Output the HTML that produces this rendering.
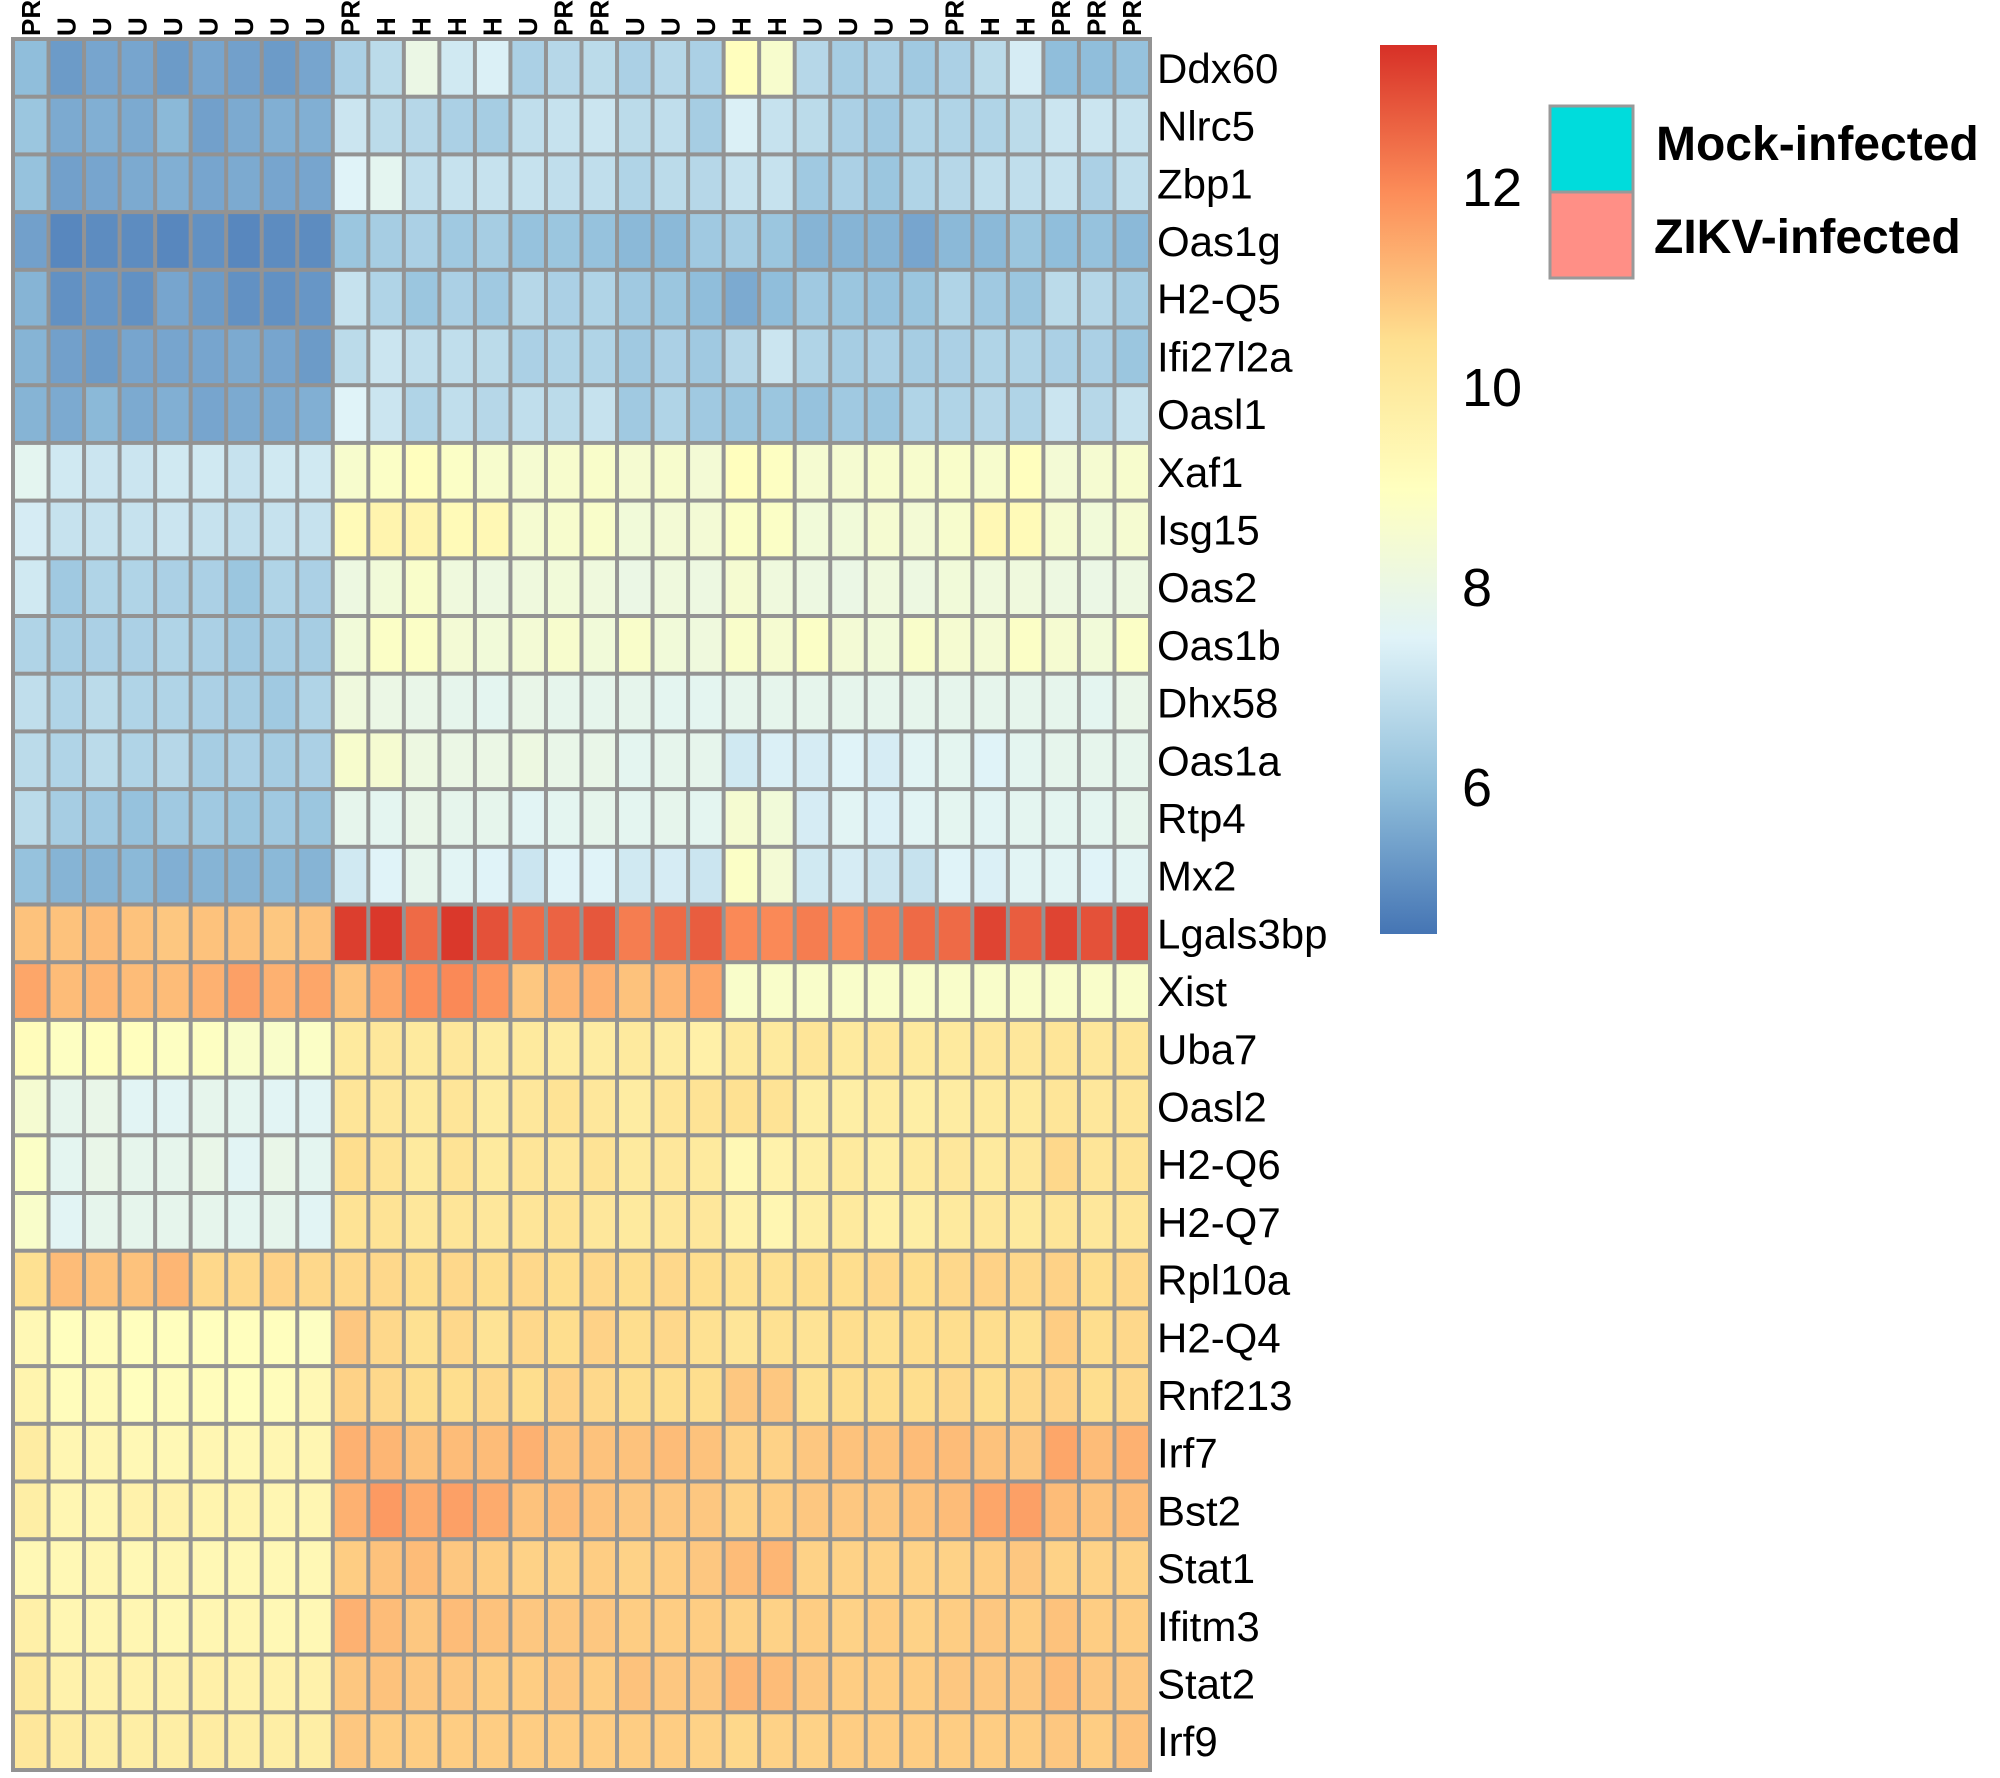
<!DOCTYPE html>
<html><head><meta charset="utf-8">
<style>
html,body{margin:0;padding:0;background:#fff;}
svg{display:block;}
text{font-family:"Liberation Sans",sans-serif;}
</style></head>
<body>
<svg id="chart" width="2000" height="1778" viewBox="0 0 2000 1778" xmlns="http://www.w3.org/2000/svg">
  <defs>
    <linearGradient id="cbgrad" x1="0" y1="1" x2="0" y2="0">
      <stop offset="0" stop-color="#4575B4"/>
      <stop offset="0.1667" stop-color="#91BFDB"/>
      <stop offset="0.3333" stop-color="#E0F3F8"/>
      <stop offset="0.5" stop-color="#FFFFBF"/>
      <stop offset="0.6667" stop-color="#FEE090"/>
      <stop offset="0.8333" stop-color="#FC8D59"/>
      <stop offset="1" stop-color="#D73027"/>
    </linearGradient>
  </defs>
  <g id="cells"></g>
  <g id="rowlabels"></g>
  <g id="collabels"></g>
  <rect x="1380" y="45" width="57" height="889" fill="url(#cbgrad)"/>
  <g id="cbticks"></g>
  <g>
    <rect x="1550" y="106" width="83" height="86" fill="#00DCDC" stroke="#999" stroke-width="3"/>
    <rect x="1550" y="192" width="83" height="86" fill="#FF8F86" stroke="#999" stroke-width="3"/>
    <text x="1656" y="160" font-size="48" font-weight="bold">Mock-infected</text>
    <text x="1654" y="253" font-size="48" font-weight="bold">ZIKV-infected</text>
  </g>
</svg>
<script>
const genes = ["Ddx60","Nlrc5","Zbp1","Oas1g","H2-Q5","Ifi27l2a","Oasl1","Xaf1","Isg15","Oas2","Oas1b","Dhx58","Oas1a","Rtp4","Mx2","Lgals3bp","Xist","Uba7","Oasl2","H2-Q6","H2-Q7","Rpl10a","H2-Q4","Rnf213","Irf7","Bst2","Stat1","Ifitm3","Stat2","Irf9"];
const samples = ["PR","U","U","U","U","U","U","U","U","PR","H","H","H","H","U","PR","PR","U","U","U","H","H","U","U","U","U","PR","H","H","PR","PR","PR"];
const colorTicks = [6, 8, 10, 12];
const colorMin = 4.53;
const colorMax = 13.42;
const values = [
[6.0,5.3,5.5,5.5,5.3,5.5,5.4,5.3,5.5, 6.5,6.8,8.0,7.2,7.4,6.5,6.7,6.8,6.5,6.7,6.5,9.0,8.6,6.7,6.4,6.5,6.3,6.5,6.8,7.3,6.0,6.0,6.1],
[6.2,5.6,5.7,5.6,5.9,5.4,5.6,5.7,5.7, 7.1,6.8,6.7,6.5,6.4,6.9,7.0,7.1,6.8,6.9,6.4,7.4,7.0,6.8,6.5,6.3,6.6,6.6,6.6,6.8,7.1,7.1,7.0],
[6.1,5.4,5.5,5.6,5.7,5.5,5.6,5.5,5.5, 7.5,7.7,6.9,7.0,7.0,7.0,6.9,6.9,6.6,6.8,6.7,7.0,7.0,6.3,6.5,6.2,6.6,6.7,6.9,6.9,7.0,6.5,6.9],
[5.4,4.9,5.0,5.0,4.9,5.1,4.9,5.0,5.0, 6.2,6.4,6.5,6.3,6.4,6.1,6.2,6.1,5.9,5.9,6.3,6.4,6.2,5.8,5.8,5.8,5.5,5.9,5.9,6.2,6.0,6.1,5.9],
[5.8,5.1,5.2,5.1,5.5,5.3,5.1,5.1,5.2, 7.0,6.6,6.2,6.5,6.3,6.7,6.5,6.6,6.3,6.2,6.0,5.6,6.0,6.3,6.2,6.1,6.2,6.6,6.3,6.2,6.8,6.7,6.4],
[5.8,5.4,5.3,5.5,5.5,5.5,5.6,5.5,5.3, 6.8,7.1,6.9,6.9,6.8,6.5,6.6,6.6,6.3,6.5,6.3,6.7,7.1,6.6,6.4,6.5,6.4,6.5,6.6,6.6,6.5,6.5,6.2],
[5.8,5.6,5.9,5.6,5.7,5.5,5.6,5.6,5.7, 7.5,7.1,6.6,6.9,6.7,6.9,6.8,7.0,6.3,6.6,6.3,6.2,6.2,6.1,6.3,6.2,6.6,6.6,6.7,6.6,7.1,6.7,7.0],
[7.7,7.2,7.1,7.1,7.2,7.2,7.0,7.2,7.2, 8.6,8.8,9.0,8.8,8.6,8.5,8.6,8.7,8.5,8.6,8.4,9.0,8.9,8.5,8.5,8.6,8.6,8.7,8.6,9.0,8.4,8.5,8.6],
[7.3,7.0,7.0,7.0,7.1,7.0,6.9,7.0,7.0, 9.2,9.5,9.5,9.2,9.3,8.5,8.6,8.7,8.3,8.4,8.4,8.8,8.8,8.3,8.3,8.5,8.4,8.6,9.3,9.2,8.5,8.3,8.5],
[7.2,6.3,6.6,6.6,6.5,6.5,6.2,6.6,6.5, 8.1,8.3,8.7,8.2,8.1,8.2,8.3,8.2,8.0,8.2,8.1,8.5,8.2,8.1,8.0,8.2,8.1,8.3,8.2,8.2,8.1,8.0,8.1],
[6.6,6.4,6.5,6.5,6.6,6.5,6.3,6.4,6.4, 8.3,8.8,8.8,8.4,8.3,8.4,8.6,8.3,8.7,8.3,8.2,8.7,8.5,8.8,8.4,8.3,8.7,8.5,8.4,8.8,8.5,8.3,8.8],
[6.9,6.6,6.8,6.6,6.6,6.5,6.4,6.3,6.6, 8.2,8.0,7.9,7.8,7.7,7.9,7.8,7.8,7.8,7.7,7.7,7.8,7.8,7.8,7.8,7.8,7.8,7.8,7.8,7.8,7.8,7.7,7.9],
[6.8,6.6,6.8,6.6,6.7,6.4,6.5,6.4,6.5, 8.6,8.5,8.1,8.0,8.0,8.1,7.9,7.9,7.7,7.8,7.8,7.2,7.4,7.3,7.5,7.3,7.6,7.7,7.5,7.7,7.8,7.8,7.8],
[6.8,6.4,6.3,6.1,6.3,6.3,6.2,6.3,6.2, 7.8,7.7,7.9,7.8,7.8,7.6,7.7,7.8,7.7,7.8,7.7,8.5,8.3,7.3,7.6,7.4,7.6,7.7,7.6,7.7,7.7,7.7,7.8],
[6.1,5.8,5.8,5.9,5.7,5.8,5.8,5.9,5.8, 7.2,7.5,7.8,7.6,7.5,7.1,7.5,7.5,7.2,7.3,7.1,8.8,8.4,7.2,7.3,7.1,7.0,7.5,7.4,7.6,7.6,7.5,7.6],
[11.0,11.0,11.1,11.0,10.9,11.0,11.0,10.9,11.0, 13.2,13.3,12.5,13.3,12.9,12.5,12.6,12.8,12.2,12.5,12.7,12.0,12.0,12.2,12.0,12.2,12.5,12.5,13.1,12.7,13.1,12.9,13.1],
[11.5,11.1,11.2,11.1,11.1,11.3,11.6,11.3,11.5, 11.0,11.5,11.9,12.0,11.8,10.9,11.2,11.3,11.0,11.2,11.5,8.7,8.7,8.7,8.7,8.7,8.7,8.7,8.7,8.7,8.7,8.7,8.7],
[9.1,8.9,9.0,9.0,8.9,8.9,8.7,8.7,8.8, 10.0,10.1,10.0,10.1,9.9,10.0,9.9,9.9,10.0,9.9,9.7,10.0,10.0,10.2,10.0,10.1,10.0,10.0,10.1,10.1,10.2,10.1,10.2],
[8.5,7.8,7.9,7.6,7.6,7.8,7.7,7.6,7.6, 10.2,10.1,10.0,10.2,9.9,10.1,10.3,10.1,9.9,10.2,10.3,10.4,10.3,9.8,9.8,9.9,9.8,9.9,10.0,10.0,10.2,10.1,10.2],
[8.8,7.7,7.9,7.8,7.8,7.9,7.6,7.9,7.7, 10.5,10.3,10.0,10.3,10.0,10.2,10.1,10.3,10.0,10.1,10.0,9.3,9.6,9.8,10.0,9.8,10.0,10.1,10.0,10.1,10.6,10.2,10.3],
[8.7,7.6,7.8,7.8,7.8,7.8,7.7,7.8,7.6, 10.3,10.3,10.1,10.2,10.1,10.2,10.3,10.1,10.0,10.1,10.1,9.6,9.4,9.8,10.0,9.7,9.8,10.0,10.1,10.0,10.2,10.1,10.2],
[10.4,11.1,11.0,11.0,11.2,10.6,10.6,10.7,10.6, 10.6,10.6,10.5,10.6,10.5,10.6,10.5,10.6,10.5,10.6,10.5,10.4,10.4,10.5,10.5,10.6,10.5,10.6,10.7,10.6,10.7,10.5,10.6],
[9.3,9.0,9.1,9.0,9.0,9.0,9.0,9.0,8.9, 10.9,10.6,10.4,10.6,10.3,10.6,10.5,10.7,10.5,10.6,10.4,10.2,10.4,10.3,10.5,10.4,10.5,10.5,10.5,10.4,10.8,10.5,10.6],
[9.5,9.1,9.2,9.0,9.1,9.1,9.0,9.1,9.3, 10.7,10.6,10.5,10.5,10.6,10.5,10.7,10.6,10.5,10.5,10.5,10.9,10.9,10.4,10.5,10.5,10.5,10.6,10.5,10.6,10.7,10.5,10.6],
[9.9,9.4,9.4,9.3,9.3,9.4,9.3,9.4,9.4, 11.3,11.2,11.0,11.1,11.1,11.3,11.0,11.0,11.0,11.1,11.0,10.7,10.7,10.9,11.0,11.0,11.1,11.1,11.0,10.9,11.5,11.1,11.3],
[9.8,9.4,9.4,9.6,9.6,9.5,9.5,9.4,9.4, 11.3,11.7,11.4,11.6,11.4,11.0,11.1,11.0,10.9,10.9,10.9,10.7,10.8,10.9,10.9,10.9,11.0,11.1,11.5,11.6,11.1,11.0,11.1],
[9.3,9.3,9.4,9.3,9.4,9.3,9.3,9.3,9.3, 10.8,11.0,11.1,10.9,10.8,10.7,10.7,10.8,10.7,10.8,10.9,11.1,11.2,10.7,10.7,10.7,10.7,10.7,10.8,10.9,10.7,10.7,10.7],
[9.7,9.4,9.4,9.4,9.3,9.4,9.4,9.3,9.3, 11.3,11.1,10.9,11.1,11.0,10.9,10.9,10.9,10.8,10.8,10.8,10.7,10.7,10.8,10.7,10.8,10.7,10.8,10.9,10.8,11.0,10.8,10.8],
[10.0,9.6,9.6,9.6,9.6,9.7,9.6,9.6,9.6, 10.9,11.0,10.9,10.9,10.8,10.8,10.9,10.8,11.0,10.9,10.9,11.2,11.1,10.9,10.8,10.8,10.8,10.9,10.9,10.9,11.1,10.9,10.9],
[10.1,9.9,9.8,9.8,9.8,9.9,9.8,9.8,9.8, 10.9,10.8,10.8,10.8,10.8,10.8,10.8,10.8,10.8,10.8,10.7,10.6,10.7,10.7,10.8,10.8,10.8,10.8,10.8,10.8,10.9,10.8,11.0]
];

const NS = "http://www.w3.org/2000/svg";
const gridX0 = 13, gridX1 = 1150, gridY0 = 39, gridY1 = 1770;
const cw = (gridX1 - gridX0) / samples.length;
const ch = (gridY1 - gridY0) / genes.length;
function xPos(j){ return gridX0 + j * cw; }
function yPos(i){ return gridY0 + i * ch; }
const stops = ["#4575B4","#91BFDB","#E0F3F8","#FFFFBF","#FEE090","#FC8D59","#D73027"].map(h=>[parseInt(h.slice(1,3),16),parseInt(h.slice(3,5),16),parseInt(h.slice(5,7),16)]);
function colorScale(v){
  let t = (v - colorMin) / (colorMax - colorMin);
  t = Math.max(0, Math.min(1, t)) * (stops.length - 1);
  const k = Math.min(stops.length - 2, Math.floor(t)), f = t - k;
  const c = stops[k].map((a, idx) => Math.round(a + (stops[k+1][idx] - a) * f));
  return "rgb(" + c.join(",") + ")";
}
function cbY(v){ return 934 - (v - colorMin) / (colorMax - colorMin) * 889; }

const cells = document.getElementById("cells");
const bg = document.createElementNS(NS, "rect");
bg.setAttribute("x", gridX0 - 2); bg.setAttribute("y", gridY0 - 2);
bg.setAttribute("width", gridX1 - gridX0 + 4); bg.setAttribute("height", gridY1 - gridY0 + 4);
bg.setAttribute("fill", "#939393");


cells.appendChild(bg);
for (let i = 0; i < genes.length; i++) {
  for (let j = 0; j < samples.length; j++) {
    const r = document.createElementNS(NS, "rect");
    r.setAttribute("x", (xPos(j) + 2).toFixed(2));
    r.setAttribute("y", (yPos(i) + 2).toFixed(2));
    r.setAttribute("width", (cw - 4).toFixed(2));
    r.setAttribute("height", (ch - 4).toFixed(2));
    r.setAttribute("fill", colorScale(values[i][j]));
    
    
    cells.appendChild(r);
  }
}
const rl = document.getElementById("rowlabels");
genes.forEach((g, i) => {
  const t = document.createElementNS(NS, "text");
  t.setAttribute("x", 1157);
  t.setAttribute("y", (yPos(i) + ch / 2 + 15).toFixed(1));
  t.setAttribute("font-size", "42");
  t.textContent = g;
  
  
  rl.appendChild(t);
});
const cl = document.getElementById("collabels");
samples.forEach((s, j) => {
  const t = document.createElementNS(NS, "text");
  const cx = xPos(j) + cw / 2 + 9;
  t.setAttribute("transform", "translate(" + cx.toFixed(1) + ",36) rotate(-90)");
  t.setAttribute("font-size", "26");
  t.setAttribute("font-weight", "bold");
  t.textContent = s;
  
  
  cl.appendChild(t);
});
const cb = document.getElementById("cbticks");
colorTicks.forEach(v => {
  const t = document.createElementNS(NS, "text");
  t.setAttribute("x", 1462);
  t.setAttribute("y", (cbY(v) + 19).toFixed(1));
  t.setAttribute("font-size", "54");
  t.textContent = String(v);
  
  
  cb.appendChild(t);
});
</script>
</body></html>
